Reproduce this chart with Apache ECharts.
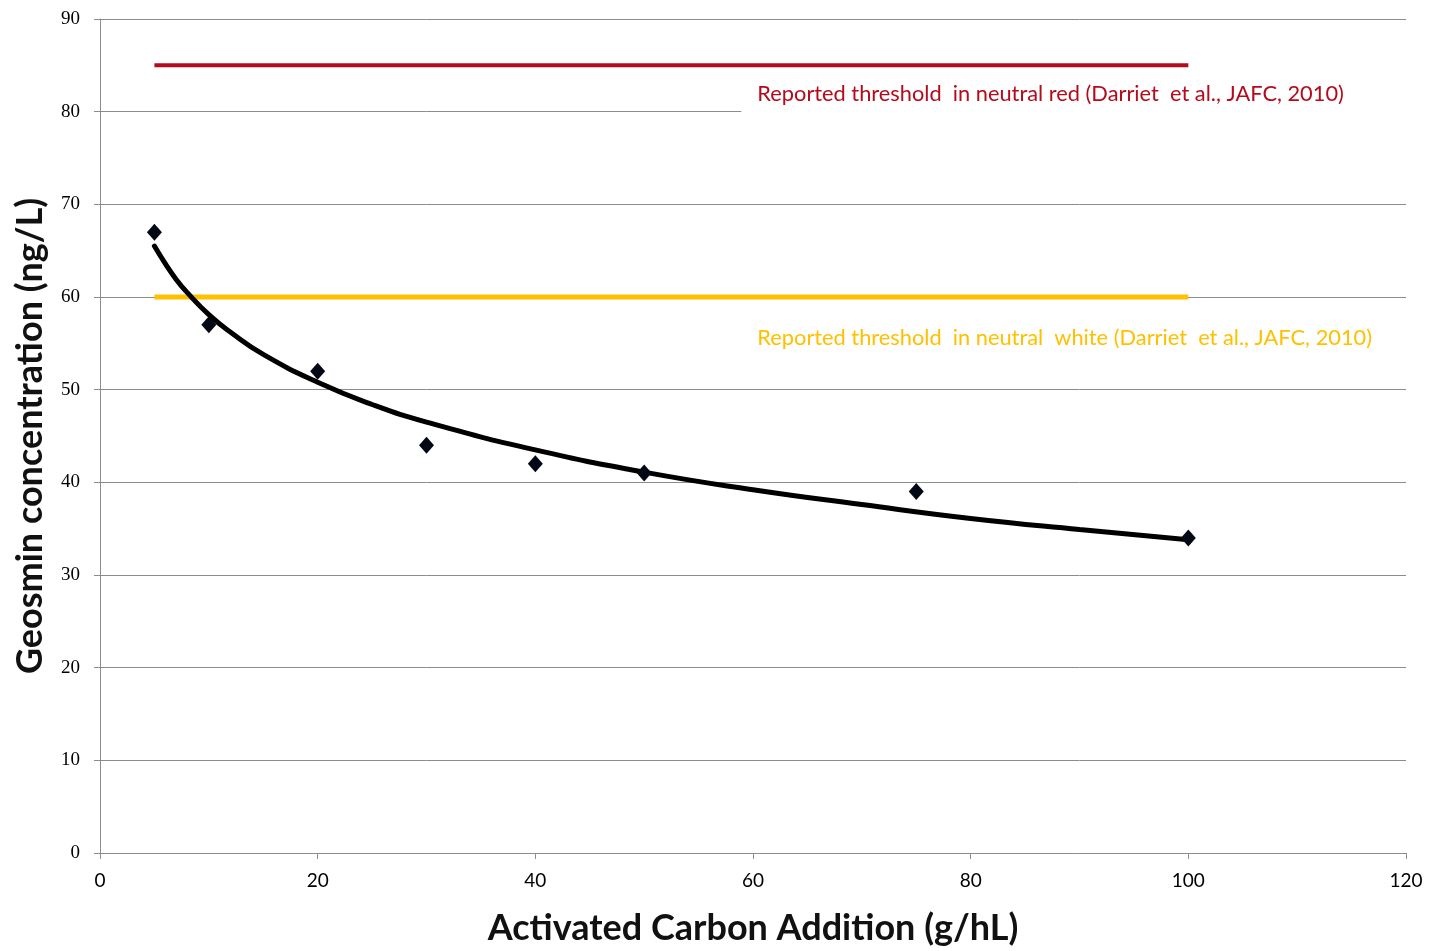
<!DOCTYPE html>
<html>
<head>
<meta charset="utf-8">
<script src="https://cdn.jsdelivr.net/npm/echarts@6/dist/echarts.min.js"></script>
<style>
  html, body { margin: 0; padding: 0; background: #fff; }
  #chart { width: 1429px; height: 951px; }
</style>
</head>
<body>
<div id="chart"></div>
<script>
// measured points (activated carbon g/hL, geosmin ng/L)
const carbonDose = [5, 10, 20, 30, 40, 50, 75, 100]
const geosmin = [67, 57, 52, 44, 42, 41, 39, 34]

// trend curve
const trendX = [5, 6, 7, 8, 10, 12, 15, 20, 25, 30, 40, 50, 60, 70, 80, 90, 100]
const trendY = [65.5, 63.6, 61.9, 60.5, 58.1, 56.2, 53.8, 50.8, 48.4, 46.5, 43.5, 41.1, 39.2, 37.6, 36.1, 34.9, 33.8]

// thresholds
const redThreshold = { from: 5, to: 100, value: 85, label: 'Reported threshold  in neutral red (Darriet  et al., JAFC, 2010)' }
const whiteThreshold = { from: 5, to: 100, value: 60, label: 'Reported threshold  in neutral  white (Darriet  et al., JAFC, 2010)' }

const xTitle = 'Activated Carbon Addition (g/hL)'
const yTitle = 'Geosmin concentration (ng/L)'

const chart = echarts.init(document.getElementById('chart'))

const axisGray = '#8c8c8c'

chart.setOption({
  animation: false,
  backgroundColor: '#fff',
  grid: { left: 100, right: 23, top: 19, bottom: 94 },
  xAxis: {
    type: 'value',
    min: 0, max: 120, interval: 20,
    name: xTitle,
    nameLocation: 'middle',
    nameGap: 57,
    nameTextStyle: { fontFamily: 'Lato', fontWeight: 'bold', fontSize: 36, color: '#111' },
    axisLine: { lineStyle: { color: axisGray, width: 1 } },
    axisTick: { show: true, length: 6, lineStyle: { color: axisGray } },
    axisLabel: { fontFamily: 'Lato', fontSize: 19, color: '#000', margin: 18 },
    splitLine: { show: false }
  },
  yAxis: {
    type: 'value',
    min: 0, max: 90, interval: 10,
    name: yTitle,
    nameLocation: 'middle',
    nameGap: 52,
    nameRotate: 90,
    nameTextStyle: { fontFamily: 'Lato', fontWeight: 'bold', fontSize: 36, color: '#111' },
    axisLine: { show: true, lineStyle: { color: axisGray, width: 1 } },
    axisTick: { show: true, length: 6, lineStyle: { color: axisGray } },
    axisLabel: { fontFamily: 'Liberation Serif', fontSize: 19, color: '#000', margin: 20 },
    splitLine: { show: true, lineStyle: { color: axisGray, width: 1 } }
  },
  series: [
    {
      name: 'red threshold',
      type: 'line',
      data: [[redThreshold.from, redThreshold.value], [redThreshold.to, redThreshold.value]],
      symbol: 'none',
      lineStyle: { color: '#B40A1B', width: 4 },
      z: 3
    },
    {
      name: 'white threshold',
      type: 'line',
      data: [[whiteThreshold.from, whiteThreshold.value], [whiteThreshold.to, whiteThreshold.value]],
      symbol: 'none',
      lineStyle: { color: '#FFC000', width: 5 },
      z: 3
    },
    {
      name: 'trend',
      type: 'line',
      data: trendX.map((x, i) => [x, trendY[i]]),
      symbol: 'none',
      smooth: true,
      lineStyle: { color: '#000', width: 5, cap: 'round' },
      z: 4
    },
    {
      name: 'geosmin',
      type: 'scatter',
      data: carbonDose.map((x, i) => [x, geosmin[i]]),
      symbol: 'diamond',
      symbolSize: [15, 17],
      itemStyle: { color: '#020814', opacity: 1 },
      z: 5
    }
  ]
})

// threshold captions; text box in white covers the 80 gridline like the original
const redPos = chart.convertToPixel({ gridIndex: 0 }, [60.4, 82])
const whitePos = chart.convertToPixel({ gridIndex: 0 }, [60.4, 55.7])
chart.setOption({
  graphic: [
    {
      type: 'rect',
      left: redPos[0] - 16, top: redPos[1] - 20,
      shape: { width: 1406 - redPos[0] + 16, height: 44 },
      style: { fill: '#fff' },
      z: 1
    },
    {
      type: 'text',
      left: redPos[0], top: redPos[1] - 10,
      style: { text: redThreshold.label, fill: '#B40A1B', font: '21.8px Lato' },
      z: 2
    },
    {
      type: 'text',
      left: whitePos[0], top: whitePos[1] - 10,
      style: { text: whiteThreshold.label, fill: '#FFC000', font: '21.8px Lato' },
      z: 2
    }
  ]
})
</script>
</body>
</html>
